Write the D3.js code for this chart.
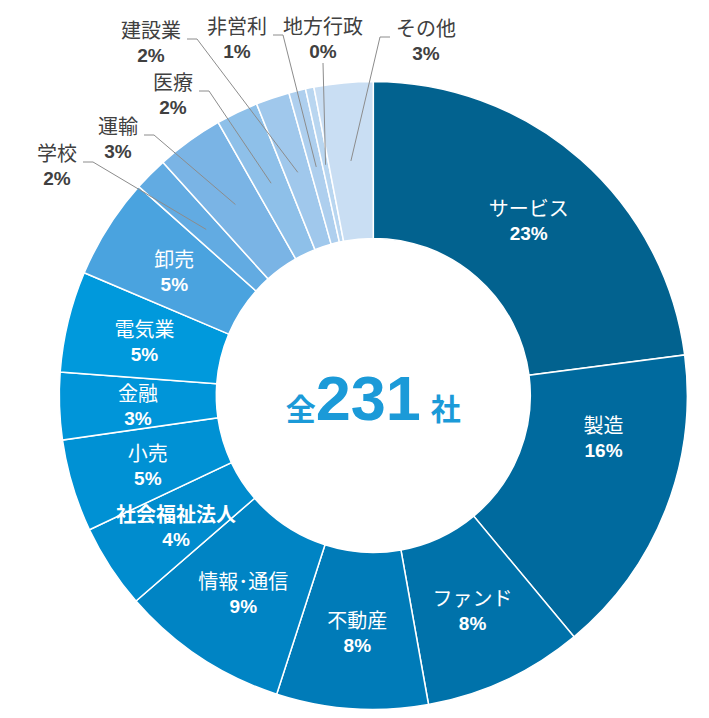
<!DOCTYPE html>
<html>
<head>
<meta charset="utf-8">
<script src="https://cdn.jsdelivr.net/npm/d3@7"></script>
<style>
  body { margin: 0; background: #fff; }
</style>
</head>
<body>
<div id="chart"></div>
<script>
// 業種別の社数 (全231社), 12時の位置から時計回り
var categories = ['サービス', '製造', 'ファンド', '不動産', '情報･通信', '社会福祉法人', '小売', '金融',
                  '電気業', '卸売', '学校', '運輸', '医療', '建設業', '非営利', '地方行政', 'その他'];
var counts = [53, 37, 19, 18, 20, 10, 11, 8, 12, 12, 4, 8, 5, 4, 2, 1, 7];
var colors = ['#02628f', '#006a9e', '#0072aa', '#007bb8', '#0084c4', '#008cce', '#0091d4', '#0095d9',
              '#0099dc', '#4aa3df', '#62abe2', '#7ab4e5', '#8ec0e9', '#a0c8ec', '#aecfee', '#b9d6f0', '#c9def3'];

// ラベルの配置 (外側に出すラベルと、手で動かしたラベル)
var outerLabelPos = {
    '学校': [57, 152], '運輸': [118, 125], '医療': [173, 81], '建設業': [151, 29],
    '非営利': [237, 25], '地方行政': [323, 25], 'その他': [426, 27]
};
var labelNudge = { '製造': [11, -46] };

var width = 709, height = 718;
var cx = 373.3, cy = 395.4;
var outerR = 314, innerR = 157;
var total = d3.sum(counts);

var jpFont = "'Noto Sans CJK JP', 'Noto Sans', sans-serif";
var numFont = "'Liberation Sans', Arial, sans-serif";

var data = categories.map(function (c, i) { return { name: c, value: counts[i], color: colors[i] }; });

var svg = d3.select('#chart').append('svg')
    .attr('width', width)
    .attr('height', height);

var g = svg.append('g')
    .attr('transform', 'translate(' + cx + ',' + cy + ')');

var pie = d3.pie().sort(null).value(function (d) { return d.value; });
var arc = d3.arc().innerRadius(innerR).outerRadius(outerR);
var arcs = pie(data);

g.selectAll('path.slice')
    .data(arcs)
    .enter()
    .append('path')
    .attr('class', 'slice')
    .attr('d', arc)
    .attr('fill', function (d) { return d.data.color; })
    .attr('stroke', '#fff')
    .attr('stroke-width', 1.5);

function pct(d) { return Math.round(d.value / total * 100) + '%'; }

// 内側のラベル
arcs.filter(function (d) { return !outerLabelPos[d.data.name]; }).forEach(function (d) {
    var c = arc.centroid(d);
    var n = labelNudge[d.data.name] || [0, 0];
    var x = c[0] + n[0], y = c[1] + n[1];
    g.append('text')
        .attr('x', x).attr('y', y - 11)
        .attr('text-anchor', 'middle')
        .attr('dominant-baseline', 'central')
        .attr('fill', '#fff')
        .style('font-family', jpFont)
        .style('font-size', '20px')
        .style('font-weight', d.data.name == '社会福祉法人' ? 700 : 400)
        .text(d.data.name);
    g.append('text')
        .attr('x', x).attr('y', y + 15)
        .attr('text-anchor', 'middle')
        .attr('dominant-baseline', 'central')
        .attr('fill', '#fff')
        .style('font-family', numFont)
        .style('font-size', '19px')
        .style('font-weight', 700)
        .text(pct(d.data));
});

// 外側のラベルと引き出し線
var outerG = svg.append('g');
arcs.filter(function (d) { return outerLabelPos[d.data.name]; }).forEach(function (d) {
    var pos = outerLabelPos[d.data.name];
    var lx = pos[0], ly = pos[1];
    var c = arc.centroid(d);
    var px = c[0] + cx, py = c[1] + cy;

    var nameText = outerG.append('text')
        .attr('x', lx).attr('y', ly)
        .attr('text-anchor', 'middle')
        .attr('dominant-baseline', 'central')
        .attr('fill', '#404040')
        .style('font-family', jpFont)
        .style('font-size', '20px')
        .text(d.data.name);
    outerG.append('text')
        .attr('x', lx).attr('y', ly + 26)
        .attr('text-anchor', 'middle')
        .attr('dominant-baseline', 'central')
        .attr('fill', '#404040')
        .style('font-family', numFont)
        .style('font-size', '19px')
        .style('font-weight', 700)
        .text(pct(d.data));

    var half = nameText.node().getComputedTextLength() / 2;
    var pts;
    if (Math.abs(px - lx) < 25) {
        pts = [[px, py], [lx, ly + 38]];
    } else if (lx < px) {
        pts = [[px, py], [lx + half + 16, ly + 10], [lx + half + 6, ly + 10]];
    } else {
        pts = [[px, py], [lx - half - 16, ly + 10], [lx - half - 6, ly + 10]];
    }
    outerG.append('path')
        .attr('d', d3.line()(pts))
        .attr('fill', 'none')
        .attr('stroke', '#8c8c8c')
        .attr('stroke-width', 1);
});

// 中央の合計
var center = svg.append('text')
    .attr('x', cx)
    .attr('y', 420)
    .attr('text-anchor', 'middle')
    .attr('fill', '#1b9ad8')
    .style('font-weight', 700);
center.append('tspan')
    .style('font-family', jpFont)
    .style('font-size', '30px')
    .text('全');
center.append('tspan')
    .style('font-family', numFont)
    .style('font-size', '63px')
    .text(total);
center.append('tspan')
    .attr('dx', 10)
    .style('font-family', jpFont)
    .style('font-size', '30px')
    .text('社');
</script>
</body>
</html>
